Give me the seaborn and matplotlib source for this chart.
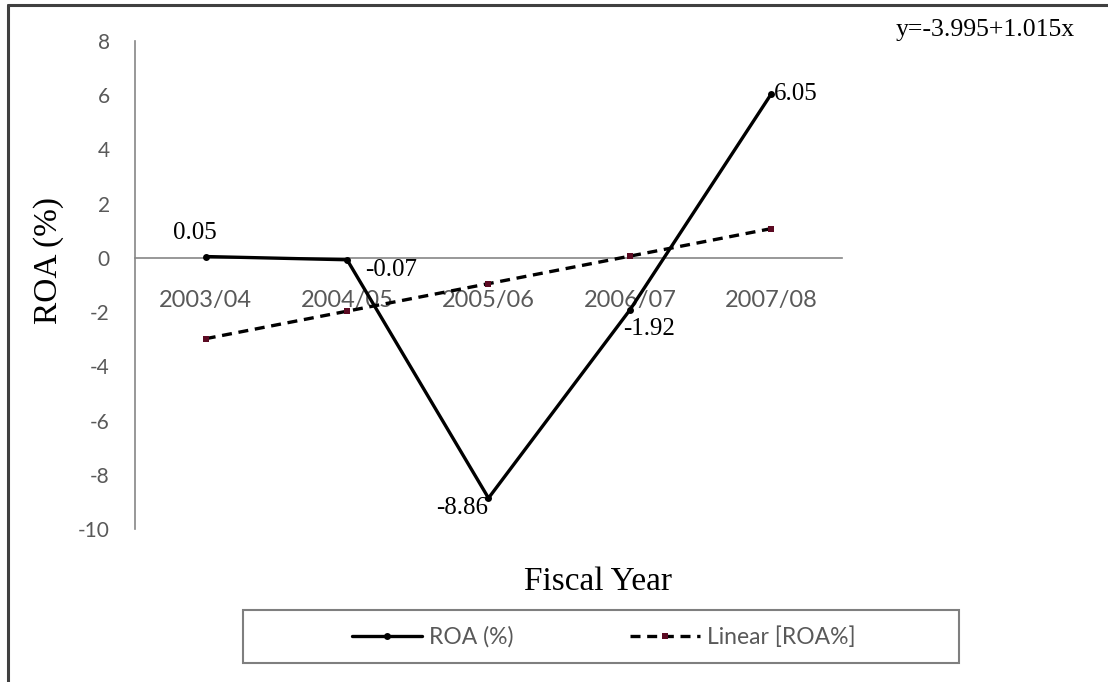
import matplotlib
matplotlib.use("Agg")
import matplotlib.pyplot as plt
from matplotlib.lines import Line2D
from matplotlib.patches import Rectangle
import numpy as np
import pandas as pd
import seaborn as sns

# ---- data -------------------------------------------------------------
fiscal_years = ["2003/04", "2004/05", "2005/06", "2006/07", "2007/08"]
roa_values = [0.05, -0.07, -8.86, -1.92, 6.05]
trend_values = [-2.98, -1.965, -0.95, 0.065, 1.08]
trend_intercept = -3.995
trend_slope = 1.015
y_ticks = [-10, -8, -6, -4, -2, 0, 2, 4, 6, 8]
series_names = ["ROA (%)", "Linear [ROA%]"]

# ---- style ------------------------------------------------------------
sns.set_style("white")
plt.rcParams["font.family"] = ["Lato", "DejaVu Sans"]
plt.rcParams["axes.unicode_minus"] = False

SERIF = ["Liberation Serif", "DejaVu Serif"]
TICK_GREY = "#595959"
AXIS_GREY = "#868686"
FRAME_GREY = "#404040"
TREND_MARKER = "#5b0a22"

W, H = 1108, 682

df = pd.DataFrame({
    "pos": np.arange(len(fiscal_years)),
    "year": fiscal_years,
    "roa": roa_values,
    "trend": trend_values,
})

fig = plt.figure(figsize=(W / 100, H / 100), dpi=100)
fig.patch.set_facecolor("white")
ax = fig.add_axes([135 / W, 1 - 529 / H, 707 / W, 488 / H])
ax.set_facecolor("white")

sns.lineplot(data=df, x="pos", y="roa", ax=ax, color="black", linewidth=2.4,
             marker="o", markersize=5, markeredgewidth=0,
             label=series_names[0], legend=False, zorder=4)
sns.lineplot(data=df, x="pos", y="trend", ax=ax, color="black", linewidth=2.4,
             linestyle=(0, (3, 2)), marker="s", markersize=5,
             markerfacecolor=TREND_MARKER, markeredgewidth=0,
             label=series_names[1], legend=False, zorder=3)

# ---- axes -------------------------------------------------------------
ax.set_xlim(-0.5, len(fiscal_years) - 0.5)
ax.set_ylim(-10, 8)
ax.set_yticks(y_ticks)
ax.set_xticks(df["pos"], fiscal_years)
ax.set_xticks(np.arange(-0.5, len(fiscal_years), 1), minor=True)
ax.spines["bottom"].set_position(("data", 0))
ax.spines[["top", "right"]].set_visible(False)
for side in ["left", "bottom"]:
    ax.spines[side].set_color(AXIS_GREY)
    ax.spines[side].set_linewidth(1.2)
ax.tick_params(axis="x", which="major", length=0, pad=23, labelsize=17,
               labelcolor=TICK_GREY)
ax.tick_params(axis="x", which="minor", length=6, width=1.2,
               color=AXIS_GREY, direction="out")
ax.tick_params(axis="y", length=7.2, width=1.2, color=AXIS_GREY,
               direction="out", pad=11, labelsize=15, labelcolor=TICK_GREY)
ax.grid(False)

ax.set_xlabel("Fiscal Year", family=SERIF, fontsize=24, color="black")
ax.xaxis.set_label_coords(0.655, -0.108)
ax.xaxis.label.set_va("center")
ax.set_ylabel("ROA (%)", family=SERIF, fontsize=24, color="black")
ax.yaxis.set_label_coords(-0.122, 0.551)
ax.yaxis.label.set_va("center")

# ---- value labels -----------------------------------------------------
label_offsets = [(-8, 17, "center"), (13, -7, "left"), (0, -7, "right"),
                 (-5, -14, "left"), (2, 0, "left")]
for x, v, (dx, dy, ha) in zip(df["pos"], roa_values, label_offsets):
    ax.annotate(f"{v:.2f}", (x, v), xytext=(dx, dy), textcoords="offset points",
                ha=ha, va="center", family=SERIF, fontsize=18, color="black",
                zorder=5)

fig.text(1075 / W, 1 - 30 / H,
         f"y={trend_intercept:.3f}+{trend_slope:.3f}x",
         ha="right", va="center", family=SERIF, fontsize=18.5, color="black")

# ---- legend -----------------------------------------------------------
handles, labels = ax.get_legend_handles_labels()
fig.legend(handles, labels, loc="center", bbox_to_anchor=(604 / W, 1 - 637 / H),
           ncol=2, frameon=False, fontsize=16.5, handlelength=3.05,
           handletextpad=0.3, columnspacing=5.1, labelcolor=TICK_GREY)
fig.add_artist(Rectangle((243 / W, 1 - 663 / H), (959 - 243) / W, 53 / H,
                         transform=fig.transFigure, fill=False,
                         edgecolor="#7f7f7f", linewidth=1.5))

# ---- outer frame (left and top edges) ---------------------------------
fig.add_artist(Line2D([8 / W, 8 / W], [0, 1 - 5 / H], transform=fig.transFigure,
                      color=FRAME_GREY, linewidth=2.2))
fig.add_artist(Line2D([8 / W, 1], [1 - 5 / H, 1 - 5 / H], transform=fig.transFigure,
                      color=FRAME_GREY, linewidth=2.2))

fig.savefig("out.png", dpi=100, facecolor="white")
